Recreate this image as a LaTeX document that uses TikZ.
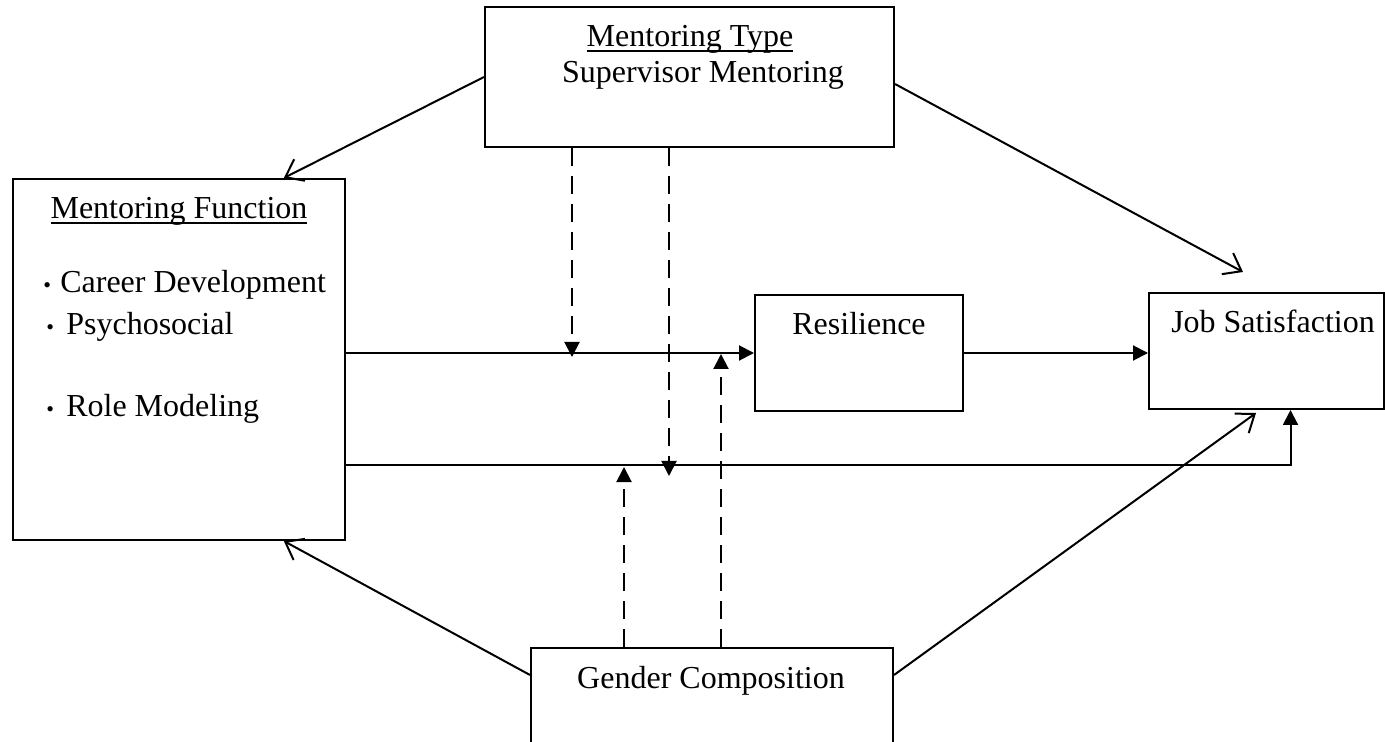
\documentclass[tikz,border=0pt]{standalone}
\usepackage{fontspec}
\setmainfont{Liberation Serif}
\usetikzlibrary{arrows.meta}
% underline that crosses the descenders
\newcommand{\ulword}[1]{\setbox0\hbox{#1}\rlap{\rule[-2.4pt]{\wd0}{0.9pt}}\box0}
\newcommand{\smallbul}{{\fontsize{11}{11}\selectfont •}}
\tikzset{
  boxnode/.style={draw, line width=1pt, inner sep=0pt},
  lbltext/.style={anchor=base, inner sep=0pt, font=\fontsize{16}{19}\selectfont},
  openarr/.style={line width=1pt, -{Straight Barb[length=8pt,width=12pt]}},
  fillarr/.style={line width=1pt, -{Triangle[length=7.5pt,width=7.5pt]}},
  modarr/.style={fillarr, dash pattern=on 9pt off 5pt},
}
\begin{document}
\begin{tikzpicture}[x=0.5pt, y=-0.5pt]
  \useasboundingbox (0,0) rectangle (1385,742);
  \clip (0,0) rectangle (1385,742);
  % Boxes
  \node[boxnode, minimum width=204.5pt, minimum height=70pt] (mtype) at (689.5,77) {};
  \node[boxnode, minimum width=166pt, minimum height=180.5pt] (mfunc) at (179,359.5) {};
  \node[boxnode, minimum width=104pt, minimum height=58pt] (res) at (859,353) {};
  \node[boxnode, minimum width=117.5pt, minimum height=58pt] (js) at (1266.5,351) {};
  \node[boxnode, minimum width=181pt, minimum height=100pt] (gcomp) at (712,748) {};
  % Texts
  \node[lbltext] (mtypet) at (690,47) {\ulword{Mentoring Type}};
  \node[lbltext] (supm) at (703,83) {Supervisor Mentoring};
  \node[lbltext] (mfunct) at (179,219) {\ulword{Mentoring Function}};
  \node[lbltext, anchor=base west] (cdev) at (43,293) {\smallbul\hspace{4.6pt}Career Development};
  \node[lbltext, anchor=base west] (psy) at (46,335) {\smallbul\hspace{6.1pt}Psychosocial};
  \node[lbltext, anchor=base west] (rolem) at (46,417) {\smallbul\hspace{6.1pt}Role Modeling};
  \node[lbltext] (rest) at (859,335) {Resilience};
  \node[lbltext] (jst) at (1273,333) {Job Satisfaction};
  \node[lbltext] (gct) at (711,688) {Gender Composition};
  % Free ends
  \coordinate (mtjs) at (1243,272);
  \coordinate (gcjs) at (1256,413);
  \coordinate (m1) at (572,357);
  \coordinate (m2) at (669,476);
  \coordinate (m3) at (624,467);
  \coordinate (m4) at (721,354);
  % Open arrows
  \draw[openarr] (mtype.west) -- (mfunc.60);
  \draw[openarr] ([yshift=-3.5pt]mtype.east) -- (mtjs);
  \draw[openarr] ([yshift=-14pt]gcomp.north west) -- (mfunc.-60);
  \draw[openarr] ([yshift=-14pt]gcomp.north east) -- (gcjs);
  % Main paths
  \draw[fillarr] (mfunc.east |- res.west) -- (res.west);
  \draw[fillarr] (res.east) -- (res.east -| js.west);
  \draw[fillarr] ([yshift=-52.75pt]mfunc.east) -| ([xshift=12pt]js.south);
  % Moderation (dashed)
  \draw[modarr] (m1 |- mtype.south) -- (m1);
  \draw[modarr] (m2 |- mtype.south) -- (m2);
  \draw[modarr] (m3 |- gcomp.north) -- (m3);
  \draw[modarr] (m4 |- gcomp.north) -- (m4);
\end{tikzpicture}
\end{document}
